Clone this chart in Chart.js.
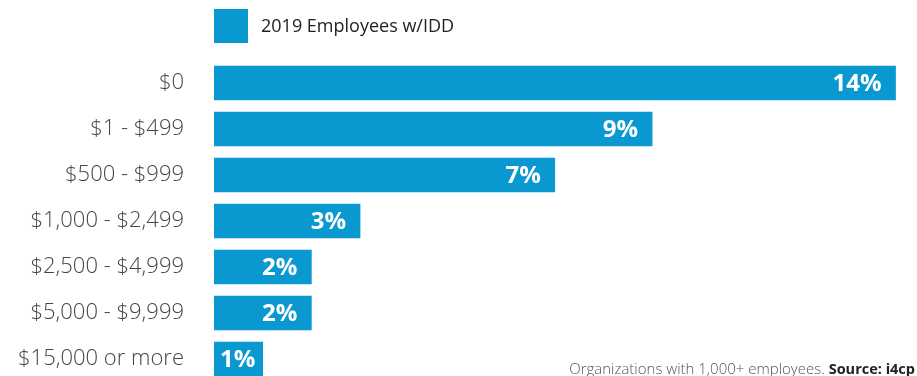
<!DOCTYPE html>
<html>
<head>
<meta charset="utf-8">
<script src="https://cdn.jsdelivr.net/npm/chart.js@4.4.1/dist/chart.umd.min.js"></script>
<style>
  html, body { margin: 0; padding: 0; background: #fff; overflow: hidden; }
  #wrap { width: 917px; height: 376px; overflow: hidden; }
</style>
</head>
<body>
<div id="wrap"><canvas id="budgetChart" width="917" height="400"></canvas></div>
<script>
// Données
const categories = ['$0', '$1 - $499', '$500 - $999', '$1,000 - $2,499', '$2,500 - $4,999', '$5,000 - $9,999', '$15,000 or more'];
const employees2019 = [14, 9, 7, 3, 2, 2, 1];
const seriesLabel = '2019 Employees w/IDD';
const noteText = 'Organizations with 1,000+ employees. ';
const sourceText = 'Source: i4cp';

const barColor = '#0a98d1';
const fontFamily = "'Open Sans', 'Noto Sans', sans-serif";

// Étiquettes de valeur blanches à l'intérieur des barres
const valueLabels = {
    id: 'valueLabels',
    afterDatasetsDraw(chart) {
        const ctx = chart.ctx;
        const meta = chart.getDatasetMeta(0);
        ctx.save();
        ctx.font = 'bold 24px ' + fontFamily;
        ctx.fillStyle = '#ffffff';
        ctx.textAlign = 'left';
        ctx.textBaseline = 'middle';
        meta.data.forEach((bar, i) => {
            const text = employees2019[i] + '%';
            const w = ctx.measureText(text).width;
            const x = Math.max(bar.x - 14 - w, bar.base + 6);
            ctx.fillText(text, x, bar.y + 1);
        });
        ctx.restore();
    }
};

// Légende et note de source
const extras = {
    id: 'extras',
    afterDraw(chart) {
        const ctx = chart.ctx;
        const left = chart.chartArea.left;
        ctx.save();
        ctx.fillStyle = barColor;
        ctx.fillRect(left, 9, 34, 34);
        ctx.fillStyle = '#222222';
        ctx.font = '18px ' + fontFamily;
        ctx.textAlign = 'left';
        ctx.textBaseline = 'middle';
        ctx.fillText(seriesLabel, left + 47, 27);

        ctx.textAlign = 'right';
        ctx.textBaseline = 'alphabetic';
        ctx.font = 'bold 14.5px ' + fontFamily;
        const sw = ctx.measureText(sourceText).width;
        ctx.fillStyle = '#222222';
        ctx.fillText(sourceText, 915, 374);
        ctx.font = '300 15px ' + fontFamily;
        ctx.fillStyle = '#555555';
        ctx.fillText(noteText, 915 - sw, 374);
        ctx.restore();
    }
};

function draw() {
    const ctx = document.getElementById('budgetChart').getContext('2d');
    new Chart(ctx, {
        type: 'bar',
        data: {
            labels: categories,
            datasets: [{
                label: seriesLabel,
                data: employees2019,
                backgroundColor: barColor,
                borderWidth: 0,
                barThickness: 34
            }]
        },
        options: {
            indexAxis: 'y',
            responsive: false,
            animation: false,
            devicePixelRatio: 1,
            // la dernière rangée passe sous le bas visible (le conteneur coupe à 376px)
            layout: {
                padding: { top: 60, bottom: 18, right: 2, left: 0 }
            },
            plugins: {
                legend: { display: false },
                tooltip: { enabled: false }
            },
            scales: {
                x: {
                    display: false,
                    min: 0,
                    max: 14.4
                },
                y: {
                    grid: { display: false, drawTicks: false },
                    border: { display: false },
                    ticks: {
                        padding: 30,
                        color: '#454545',
                        font: { family: fontFamily, size: 22, weight: 300 }
                    },
                    afterFit(scale) {
                        scale.width = 214;
                        // pas de marge automatique pour les étiquettes du haut et du bas
                        scale.paddingTop = 0;
                        scale.paddingBottom = 0;
                    }
                }
            }
        },
        plugins: [valueLabels, extras]
    });
}

Promise.all([
    document.fonts.load('300 22px "Open Sans"'),
    document.fonts.load('bold 24px "Open Sans"')
]).then(draw, draw);
</script>
</body>
</html>
